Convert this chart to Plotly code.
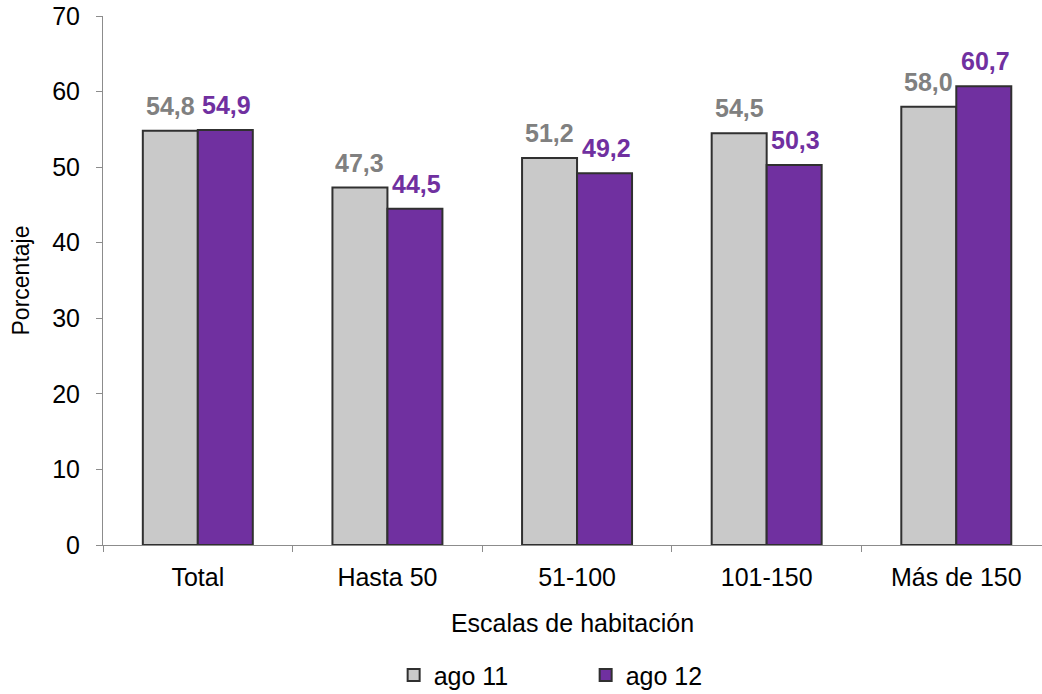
import plotly.graph_objects as go

categories = ["Total", "Hasta 50", "51-100", "101-150", "Más de 150"]
ago11 = [54.8, 47.3, 51.2, 54.5, 58.0]
ago12 = [54.9, 44.5, 49.2, 50.3, 60.7]

font = "Liberation Sans, Arial, sans-serif"
gray = "#c9c9c9"
purple = "#7030a0"

fig = go.Figure()
fig.add_trace(go.Bar(
    x=categories, y=ago11, name="ago 11",
    marker=dict(color=gray, line=dict(color="#303030", width=2)),
))
fig.add_trace(go.Bar(
    x=categories, y=ago12, name="ago 12",
    marker=dict(color=purple, line=dict(color="#303030", width=2)),
))

# value labels above each bar
for series, color, shift in [(ago11, "#808080", -27.5), (ago12, purple, 29)]:
    for cat, v in zip(categories, series):
        fig.add_annotation(
            x=cat, y=v, xref="x", yref="y", text=f"{v:.1f}".replace(".", ","),
            showarrow=False, yanchor="bottom", xanchor="center",
            xshift=shift, yshift=9,
            font=dict(color=color, size=25, family=font, weight="bold"),
        )

fig.update_layout(
    width=1042, height=694,
    margin=dict(l=103, r=0, t=16, b=149),
    paper_bgcolor="white", plot_bgcolor="white",
    separators=",.",
    barmode="group", bargap=0.42, bargroupgap=0,
    font=dict(family=font, size=25, color="black"),
    showlegend=True,
    legend=dict(orientation="h", x=0.514, xanchor="center",
                yref="container", y=0.027, yanchor="middle",
                font=dict(size=25), entrywidth=147),
    xaxis=dict(
        range=[-0.5, 4.452], showline=True, linecolor="#8c8c8c", linewidth=1,
        ticks="outside", tickson="boundaries", ticklen=6, tickcolor="#8c8c8c",
        ticklabelstandoff=10,
        title=dict(text="Escalas de habitación", font=dict(size=25), standoff=24),
        showgrid=False,
    ),
    yaxis=dict(
        range=[0, 70], dtick=10, showline=True, linecolor="#8c8c8c", linewidth=1,
        ticks="outside", ticklen=6, tickcolor="#8c8c8c", showgrid=False,
        zeroline=False, ticklabelstandoff=11,
        title=dict(text="Porcentaje", font=dict(size=23), standoff=16),
    ),
)

fig.write_html("out.html", config={"displayModeBar": False},
               post_script="document.body.style.margin='0';")
